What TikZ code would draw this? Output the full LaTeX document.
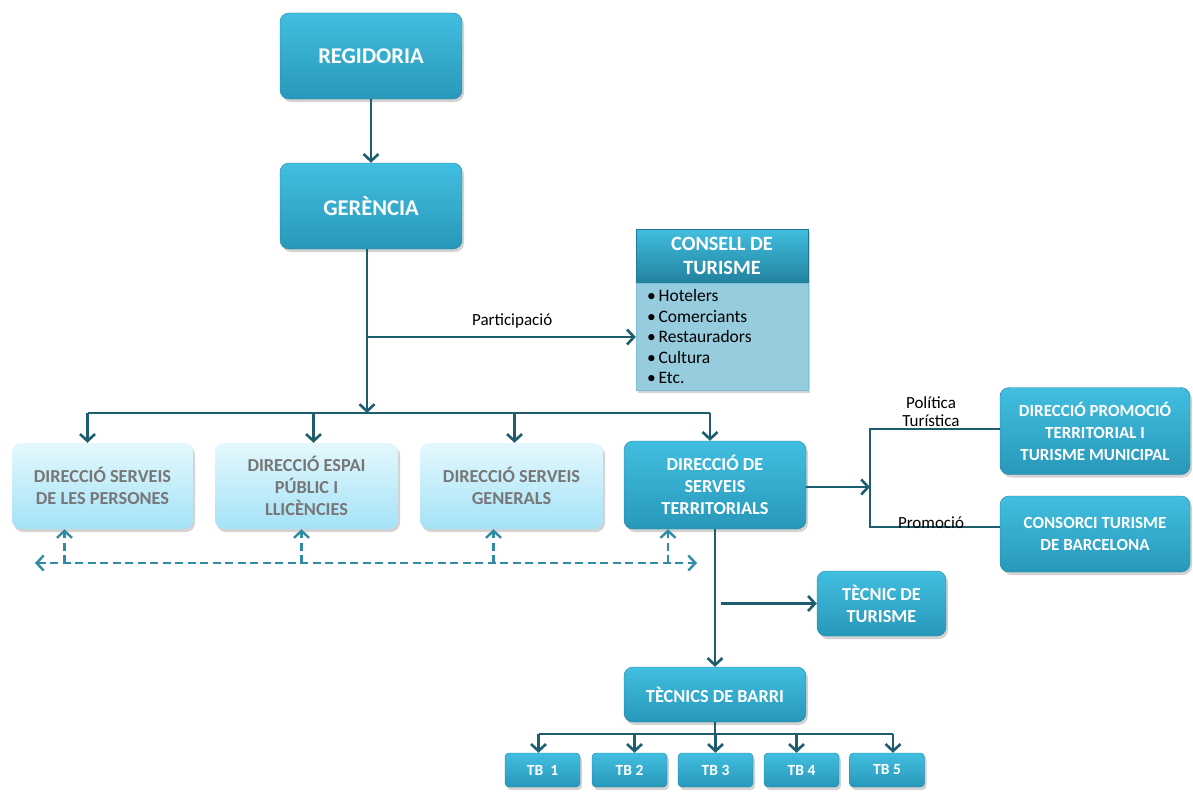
\documentclass[tikz,border=0pt]{standalone}
\usepackage{fontspec}
\setmainfont{Carlito}
\usetikzlibrary{arrows.meta,shadows,positioning}
\definecolor{boxtop}{HTML}{42BEE0}
\definecolor{boxbot}{HTML}{2898BA}
\definecolor{lighttop}{HTML}{E4F8FD}
\definecolor{lightbot}{HTML}{A4E2F7}
\definecolor{linecol}{HTML}{1E5D6E}
\definecolor{dashcol}{HTML}{2F8CA3}
\definecolor{bodycol}{HTML}{96CCDE}
\definecolor{graytxt}{HTML}{777777}

\begin{document}
\begin{tikzpicture}[x=1pt,y=-1pt,>={Straight Barb[length=7pt,width=15pt]},
  box/.style={rounded corners=9pt,top color=boxtop,bottom color=boxbot,draw=boxbot!85!black,line width=0.4pt,
    text=white,align=center,inner sep=2pt,font=\bfseries\fontsize{18.3}{22}\selectfont,
    drop shadow={opacity=0.35,shadow xshift=2pt,shadow yshift=-3pt}},
  lightbox/.style={box,top color=lighttop,bottom color=lightbot,draw=none,text=graytxt},
  tbbox/.style={box,rounded corners=4pt,minimum width=75pt,minimum height=34pt,font=\bfseries\fontsize{15.5}{17}\selectfont},
  conn/.style={draw=linecol,line width=2.6pt},
  dashline/.style={draw=dashcol,line width=2.4pt,dash pattern=on 8pt off 4.5pt},
  lbl/.style={font=\fontsize{17}{18}\selectfont,align=center,inner sep=1pt}]
\useasboundingbox (0,0) rectangle (1193,792);

\node[box,minimum width=182pt,minimum height=86pt,font=\bfseries\fontsize{22.5}{26}\selectfont] (reg) at (371,56) {REGIDORIA};
\node[box,minimum width=182pt,minimum height=86pt,font=\bfseries\fontsize{22.5}{26}\selectfont] (ger) at (371,206) {GERÈNCIA};

\node[rectangle,draw=boxbot!80!black,line width=0.4pt,top color=boxtop,bottom color=boxbot!85!black,minimum width=172pt,minimum height=54pt,
  text=white,align=center,inner sep=0pt,font=\bfseries\fontsize{20.3}{24}\selectfont,
  drop shadow={opacity=0.35,shadow xshift=2pt,shadow yshift=-3pt}] (consell) at (722,256) {CONSELL DE\\TURISME};
\node[rectangle,draw=boxbot!60,line width=0.4pt,fill=bodycol,minimum width=172pt,minimum height=107pt,below=0pt of consell,
  text width=150pt,inner xsep=11pt,inner ysep=6pt,font=\fontsize{17.5}{20.5}\selectfont,
  drop shadow={opacity=0.35,shadow xshift=2pt,shadow yshift=-3pt}] (cbody)
  {\textbullet\,Hotelers\\\textbullet\,Comerciants\\\textbullet\,Restauradors\\\textbullet\,Cultura\\\textbullet\,Etc.};

\node[lightbox,minimum width=181pt,minimum height=86pt] (l1) at (102.5,486) {DIRECCIÓ SERVEIS\\DE LES PERSONES};
\node[lightbox,minimum width=183pt,minimum height=86pt] (l2) at (306.5,486) {DIRECCIÓ ESPAI\\PÚBLIC I\\LLICÈNCIES};
\node[lightbox,minimum width=183pt,minimum height=86pt] (l3) at (511.5,486) {DIRECCIÓ SERVEIS\\GENERALS};
\node[box,minimum width=182pt,minimum height=88pt] (dst) at (715,485) {DIRECCIÓ DE\\SERVEIS\\TERRITORIALS};

\node[box,minimum width=190pt,minimum height=87pt,font=\bfseries\fontsize{17}{22}\selectfont] (dptm) at (1095,431) {DIRECCIÓ PROMOCIÓ\\TERRITORIAL I\\TURISME MUNICIPAL};
\node[box,minimum width=190pt,minimum height=76pt,font=\bfseries\fontsize{17}{22}\selectfont] (cons) at (1095,534) {CONSORCI TURISME\\DE BARCELONA};

\node[box,minimum width=129pt,minimum height=65pt] (tt) at (881.5,603.5) {TÈCNIC DE\\TURISME};
\node[box,minimum width=182pt,minimum height=55pt] (tb) at (715,694.5) {TÈCNICS DE BARRI};

\node[tbbox] (tb1) at (542.5,770) {TB\ \ 1};
\node[tbbox] (tb2) at (629.5,770) {TB 2};
\node[tbbox] (tb3) at (715.5,770) {TB 3};
\node[tbbox] (tb4) at (801.5,770) {TB 4};
\node[tbbox] (tb5) at (887,770) {TB 5};

\coordinate (bus) at (367,413);
\coordinate (part) at (367,337);
\coordinate (fork) at (870,487);
\coordinate (dl) at (35,563);
\coordinate (dr) at (697,563);
\coordinate (bbus) at (715,734);

\draw[conn,->] (reg) -- (ger);
\draw[conn,->] (ger.south -| bus) -- (bus);
\draw[conn,->] (part) -- (cbody.west |- part) node[lbl,pos=0.54,above=6pt] (partlbl) {Participació};
\draw[conn] ([xshift=-15pt]l1.north |- bus) -- ([xshift=-5pt]dst.north |- bus);
\draw[conn,->] ([xshift=-15pt]l1.north |- bus) -- ([xshift=-15pt]l1.north);
\draw[conn,->] ([xshift=7pt]l2.north |- bus) -- ([xshift=7pt]l2.north);
\draw[conn,->] ([xshift=3pt]l3.north |- bus) -- ([xshift=3pt]l3.north);
\draw[conn,->] ([xshift=-5pt]dst.north |- bus) -- ([xshift=-5pt]dst.north);

\draw[dashline,<->] (dl) -- (dr);
\draw[dashline,->] ([xshift=-38pt]l1.south |- dl) -- ([xshift=-38pt]l1.south);
\draw[dashline,->] ([xshift=-5pt]l2.south |- dl) -- ([xshift=-5pt]l2.south);
\draw[dashline,->] ([xshift=-18pt]l3.south |- dl) -- ([xshift=-18pt]l3.south);
\draw[dashline,->] ([xshift=-47pt]dst.south |- dl) -- ([xshift=-47pt]dst.south);

\draw[conn,->] (dst.east |- fork) -- (fork);
\draw[conn] ([yshift=2pt]dptm.west) -| (fork) |- ([yshift=7pt]cons.west);
\node[lbl] (pol) at (931,412) {Política\\Turística};
\node[lbl] (prom) at (931,523) {Promoció};

\draw[conn,->] (dst.south) -- (tb.north);
\draw[conn,->] ([xshift=6pt]tt.west -| dst.south) -- (tt.west);

\draw[conn] (tb.south) -- (bbus);
\draw[conn] ([xshift=-4pt]tb1.north |- bbus) -- ([xshift=6pt]tb5.north |- bbus);
\foreach \i/\s in {1/-4,2/5,3/0,4/-5,5/6}
  \draw[conn,->] ([xshift=\s pt]tb\i.north |- bbus) -- ([xshift=\s pt]tb\i.north);
\end{tikzpicture}
\end{document}
